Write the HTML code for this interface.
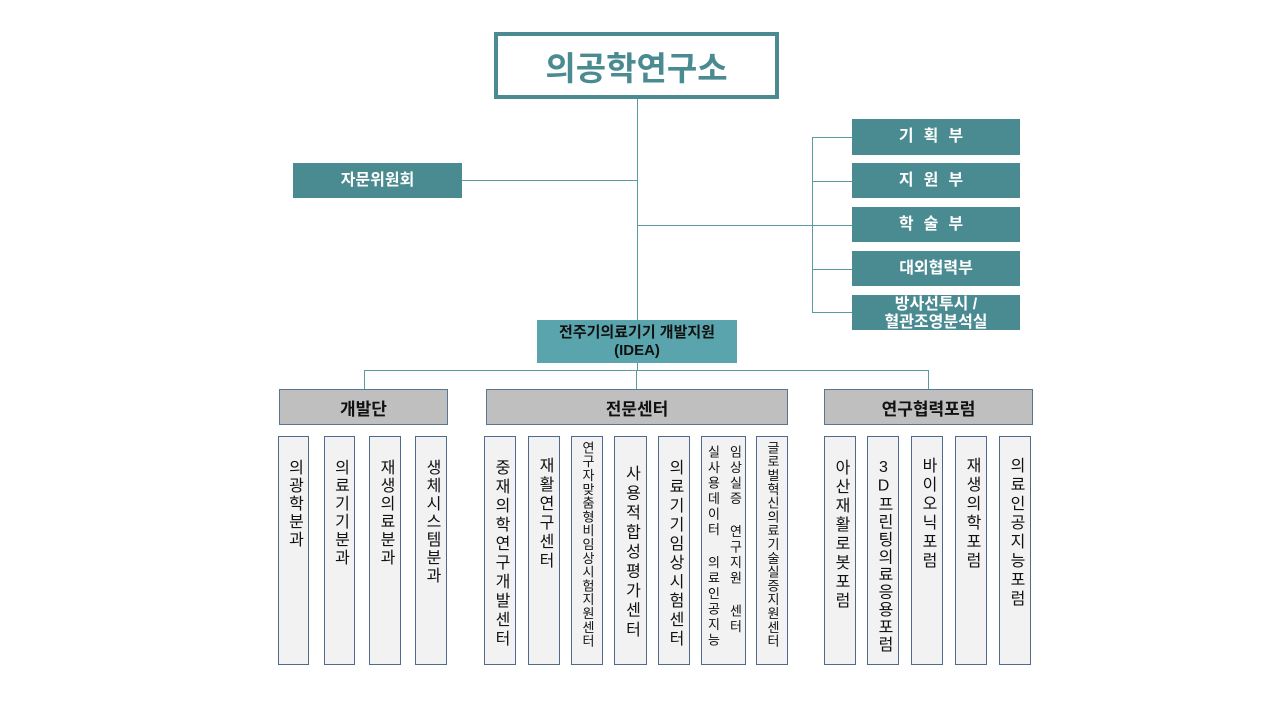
<!DOCTYPE html>
<html><head><meta charset="utf-8"><style>
body{margin:0;width:1280px;height:720px;background:#fff;position:relative;overflow:hidden;font-family:"Liberation Sans","Noto Sans CJK KR","NanumGothic",sans-serif}
div{position:absolute;box-sizing:border-box}
.l{background:#5b9aa1}
.t{background:#4a8b92;color:#fff;font-weight:bold;font-size:16px;display:flex;align-items:center;justify-content:center;text-align:center;line-height:18px}
.h{background:#bfbfbf;border:1px solid #5a7592;font-weight:bold;font-size:17px;display:flex;align-items:center;justify-content:center;color:#111}
.c{background:#f2f2f2;border:1px solid #4f6a8a;top:436px;height:229px;}
.v{writing-mode:vertical-rl;text-orientation:upright;font-size:16px;letter-spacing:3px;color:#111;position:absolute;left:50%;transform:translateX(-50%);top:22px;white-space:nowrap;line-height:18px}
</style></head><body>
<div style="left:494px;top:32px;width:285px;height:67px;border:4px solid #4a8b92;display:flex;align-items:center;justify-content:center;color:#4a8b92;font-weight:bold;font-size:33px">의공학연구소</div>
<div class="l" style="left:637px;top:99px;width:1px;height:221px"></div>
<div class="l" style="left:461px;top:180px;width:176px;height:1px"></div>
<div class="l" style="left:637px;top:225px;width:176px;height:1px"></div>
<div class="l" style="left:812px;top:137px;width:1px;height:176px"></div>
<div class="l" style="left:812px;top:137px;width:40px;height:1px"></div>
<div class="l" style="left:812px;top:181px;width:40px;height:1px"></div>
<div class="l" style="left:812px;top:225px;width:40px;height:1px"></div>
<div class="l" style="left:812px;top:269px;width:40px;height:1px"></div>
<div class="l" style="left:812px;top:312px;width:40px;height:1px"></div>
<div class="t" style="left:293px;top:163px;width:169px;height:35px">자문위원회</div>
<div class="t" style="left:852px;top:119px;width:168px;height:36px;letter-spacing:10px">기획부</div>
<div class="t" style="left:852px;top:163px;width:168px;height:35px;letter-spacing:10px">지원부</div>
<div class="t" style="left:852px;top:207px;width:168px;height:35px;letter-spacing:10px">학술부</div>
<div class="t" style="left:852px;top:251px;width:168px;height:35px">대외협력부</div>
<div class="t" style="left:852px;top:295px;width:168px;height:35px;padding-top:2px">방사선투시 /<br>혈관조영분석실</div>
<div class="t" style="left:537px;top:320px;width:200px;height:43px;background:#5aa5ad;color:#111;font-size:15px">전주기의료기기 개발지원<br>(IDEA)</div>
<div class="l" style="left:637px;top:363px;width:1px;height:8px"></div>
<div class="l" style="left:364px;top:370px;width:565px;height:1px"></div>
<div class="l" style="left:364px;top:370px;width:1px;height:19px"></div>
<div class="l" style="left:636px;top:370px;width:1px;height:19px"></div>
<div class="l" style="left:928px;top:370px;width:1px;height:19px"></div>
<div class="h" style="left:279px;top:389px;width:169px;height:36px">개발단</div>
<div class="h" style="left:486px;top:389px;width:302px;height:36px">전문센터</div>
<div class="h" style="left:824px;top:389px;width:209px;height:36px">연구협력포럼</div>

<div class="c" style="left:278px;width:31px"><span class="v" style="letter-spacing:2px">의광학분과</span></div>
<div class="c" style="left:324px;width:31px"><span class="v" style="letter-spacing:2px">의료기기분과</span></div>
<div class="c" style="left:369px;width:32px"><span class="v" style="letter-spacing:2px">재생의료분과</span></div>
<div class="c" style="left:415px;width:32px"><span class="v" style="letter-spacing:2px">생체시스템분과</span></div>

<div class="c" style="left:484px;width:32px"><span class="v">중재의학연구개발센터</span></div>
<div class="c" style="left:528px;width:32px"><span class="v" style="top:20px">재활연구센터</span></div>
<div class="c" style="left:571px;width:32px"><span class="v" style="font-size:13px;letter-spacing:0.8px;top:4px">연구자맞춤형비임상시험지원센터</span></div>
<div class="c" style="left:614px;width:33px"><span class="v" style="top:28px;letter-spacing:3.5px">사용적합성평가센터</span></div>
<div class="c" style="left:658px;width:32px"><span class="v">의료기기임상시험센터</span></div>
<div class="c" style="left:701px;width:45px"><span class="v" style="font-size:13px;letter-spacing:2.5px;top:8px;line-height:22px">임상실증 연구지원 센터<br>실사용데이터 의료인공지능</span></div>
<div class="c" style="left:756px;width:32px"><span class="v" style="font-size:13px;letter-spacing:0.8px;top:4px">글로벌혁신의료기술실증지원센터</span></div>

<div class="c" style="left:824px;width:32px"><span class="v">아산재활로봇포럼</span></div>
<div class="c" style="left:867px;width:32px"><span class="v" style="letter-spacing:1.5px">3D프린팅의료응용포럼</span></div>
<div class="c" style="left:911px;width:32px"><span class="v" style="top:20px">바이오닉포럼</span></div>
<div class="c" style="left:955px;width:32px"><span class="v" style="top:20px">재생의학포럼</span></div>
<div class="c" style="left:999px;width:32px"><span class="v" style="top:20px">의료인공지능포럼</span></div>
</body></html>
